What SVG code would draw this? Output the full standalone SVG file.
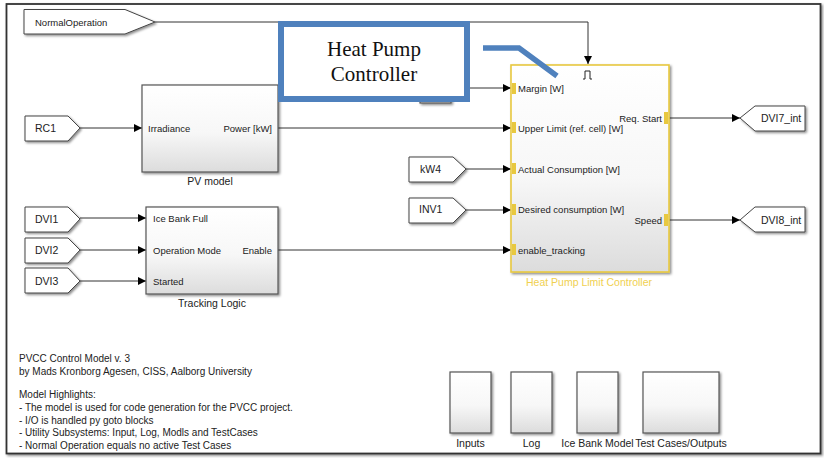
<svg xmlns="http://www.w3.org/2000/svg" width="824" height="458" viewBox="0 0 824 458">
<defs>
<linearGradient id="blk" x1="0" y1="0" x2="0" y2="1">
<stop offset="0" stop-color="#ffffff"/>
<stop offset="0.55" stop-color="#f7f7f7"/>
<stop offset="1" stop-color="#dcdcdc"/>
</linearGradient>
<filter id="sh" x="-10%" y="-10%" width="130%" height="130%">
<feDropShadow dx="1.5" dy="1.5" stdDeviation="1" flood-color="#000" flood-opacity="0.45"/>
</filter>
<marker id="arr" viewBox="0 0 10 10" refX="10" refY="5" markerWidth="8" markerHeight="8" markerUnits="userSpaceOnUse" orient="auto">
<path d="M0,0 L10,5 L0,10 z" fill="#000"/>
</marker>
</defs>
<style>
.blk{fill:url(#blk);stroke:#555;stroke-width:1.2;filter:url(#sh)}
.tag{fill:#fff;stroke:#444;stroke-width:1;filter:url(#sh)}
.t{font-family:"Liberation Sans",Arial,sans-serif;font-size:9.5px;fill:#222}
.tl{font-family:"Liberation Sans",Arial,sans-serif;font-size:10.5px;fill:#222}
.note{font-family:"Liberation Sans",Arial,sans-serif;font-size:10px;fill:#222}
.ln{fill:none;stroke:#333;stroke-width:1;marker-end:url(#arr)}
.port{fill:#e8c840}
</style>
<rect x="0" y="0" width="824" height="458" fill="#fff"/>
<rect x="6.5" y="4" width="814" height="449.5" fill="#fff" stroke="#333" stroke-width="1.8" filter="url(#sh)"/>

<g id="connectors">
<path class="ln" d="M155,22 H588 V64"/>
<path class="ln" d="M80,128 H142"/>
<path class="ln" d="M278,128 H511"/>
<path class="ln" d="M466,169 H511"/>
<path class="ln" d="M466,210 H511"/>
<path class="ln" d="M80,218 H146"/>
<path class="ln" d="M80,250 H146"/>
<path class="ln" d="M80,281 H146"/>
<path class="ln" d="M278,250 H511"/>
<path class="ln" d="M451,88 H511"/>
<path class="ln" d="M669,118 H740"/>
<path class="ln" d="M669,220 H740"/>
</g>

<g id="normal-operation">
<path class="tag" d="M24,9.5 H125 L155,22 L125,34 H24 z"/>
<text class="t" x="35" y="25.5">NormalOperation</text>
</g>

<g id="rc1">
<path class="tag" d="M25,116 H68 L80,128 L68,141 H25 z"/>
<text class="tl" x="35" y="131.5">RC1</text>
</g>

<g id="pv-model">
<rect class="blk" x="142" y="85" width="136" height="87"/>
<text class="t" x="148" y="131.5">Irradiance</text>
<text class="t" x="272" y="131.5" text-anchor="end">Power [kW]</text>
<text class="tl" x="210" y="185" text-anchor="middle">PV model</text>
</g>

<g id="dvi1">
<path class="tag" d="M25,207 H68 L80,219 L68,232 H25 z"/>
<text class="tl" x="35" y="222.5">DVI1</text>
</g>
<g id="dvi2">
<path class="tag" d="M25,238 H68 L80,250 L68,263 H25 z"/>
<text class="tl" x="35" y="253.5">DVI2</text>
</g>
<g id="dvi3">
<path class="tag" d="M25,268 H68 L80,281 L68,293 H25 z"/>
<text class="tl" x="35" y="284.5">DVI3</text>
</g>

<g id="tracking-logic">
<rect class="blk" x="146" y="207" width="132" height="87"/>
<text class="t" x="153" y="221.5">Ice Bank Full</text>
<text class="t" x="153" y="253.5">Operation Mode</text>
<text class="t" x="153" y="284.5">Started</text>
<text class="t" x="272" y="253.5" text-anchor="end">Enable</text>
<text class="tl" x="212" y="307" text-anchor="middle">Tracking Logic</text>
</g>

<g id="margin-source">
<rect class="blk" x="420" y="78" width="31" height="25"/>
</g>

<g id="kw4">
<path class="tag" d="M409,157 H453 L466,169 L453,182 H409 z"/>
<text class="tl" x="420" y="172.5">kW4</text>
</g>
<g id="inv1">
<path class="tag" d="M409,198 H453 L466,210 L453,223 H409 z"/>
<text class="tl" x="419" y="213">INV1</text>
</g>

<g id="heat-pump-limit-controller">
<rect x="511" y="65" width="158" height="207" fill="url(#blk)" stroke="#e8c840" stroke-width="1.6" filter="url(#sh)"/>
<path d="M583,79 H585 V71 H590 V79 H592" fill="none" stroke="#222" stroke-width="1"/>
<rect class="port" x="512" y="83" width="4" height="11"/>
<rect class="port" x="512" y="122" width="4" height="11"/>
<rect class="port" x="512" y="163" width="4" height="11"/>
<rect class="port" x="512" y="204" width="4" height="11"/>
<rect class="port" x="512" y="244" width="4" height="11"/>
<rect class="port" x="664" y="112" width="4" height="12"/>
<rect class="port" x="664" y="214" width="4" height="12"/>
<text class="t" x="518" y="91.5">Margin [W]</text>
<text class="t" x="518" y="131.5">Upper Limit (ref. cell) [W]</text>
<text class="t" x="518" y="172.5">Actual Consumption [W]</text>
<text class="t" x="518" y="213">Desired consumption [W]</text>
<text class="t" x="518" y="253.5">enable_tracking</text>
<text class="t" x="662" y="121.5" text-anchor="end">Req. Start</text>
<text class="t" x="662" y="223.5" text-anchor="end">Speed</text>
<text class="tl" x="589" y="285.5" text-anchor="middle" fill="#f0d050" style="fill:#f0d050">Heat Pump Limit Controller</text>
</g>

<g id="dvi7-int">
<path class="tag" d="M740,118 L755,106 H805 V131 H755 z"/>
<text class="tl" x="761" y="121.5">DVI7_int</text>
</g>
<g id="dvi8-int">
<path class="tag" d="M740,220 L755,207 H805 V232 H755 z"/>
<text class="tl" x="761" y="223.5">DVI8_int</text>
</g>

<g id="heat-pump-controller-callout">
<rect x="281" y="24" width="186" height="75" fill="#fff" stroke="#4f81bd" stroke-width="6"/>
<text x="374" y="56" text-anchor="middle" font-family="'Liberation Serif','Times New Roman',serif" font-size="21" fill="#111">Heat Pump</text>
<text x="374" y="81" text-anchor="middle" font-family="'Liberation Serif','Times New Roman',serif" font-size="21" fill="#111">Controller</text>
<path d="M483,48 H519 L557,76" fill="none" stroke="#4f81bd" stroke-width="5.5"/>
</g>

<g id="notes">
<text class="note" x="19" y="362">PVCC Control Model v. 3</text>
<text class="note" x="19" y="375">by Mads Kronborg Agesen, CISS, Aalborg University</text>
<text class="note" x="19" y="398">Model Highlights:</text>
<text class="note" x="19" y="411">- The model is used for code generation for the PVCC project.</text>
<text class="note" x="19" y="423.5">- I/O is handled py goto blocks</text>
<text class="note" x="19" y="436">- Utility Subsystems: Input, Log, Modls and TestCases</text>
<text class="note" x="19" y="448.5">- Normal Operation equals no active Test Cases</text>
</g>

<g id="inputs">
<rect class="blk" x="450" y="372" width="41" height="61"/>
<text class="tl" x="470.5" y="447" text-anchor="middle">Inputs</text>
</g>
<g id="log">
<rect class="blk" x="511" y="372" width="41" height="61"/>
<text class="tl" x="531.5" y="447" text-anchor="middle">Log</text>
</g>
<g id="ice-bank-model">
<rect class="blk" x="577" y="372" width="41" height="61"/>
<text class="tl" x="597.5" y="447" text-anchor="middle">Ice Bank Model</text>
</g>
<g id="test-cases-outputs">
<rect class="blk" x="643" y="372" width="76" height="61"/>
<text class="tl" x="681" y="447" text-anchor="middle">Test Cases/Outputs</text>
</g>
</svg>
